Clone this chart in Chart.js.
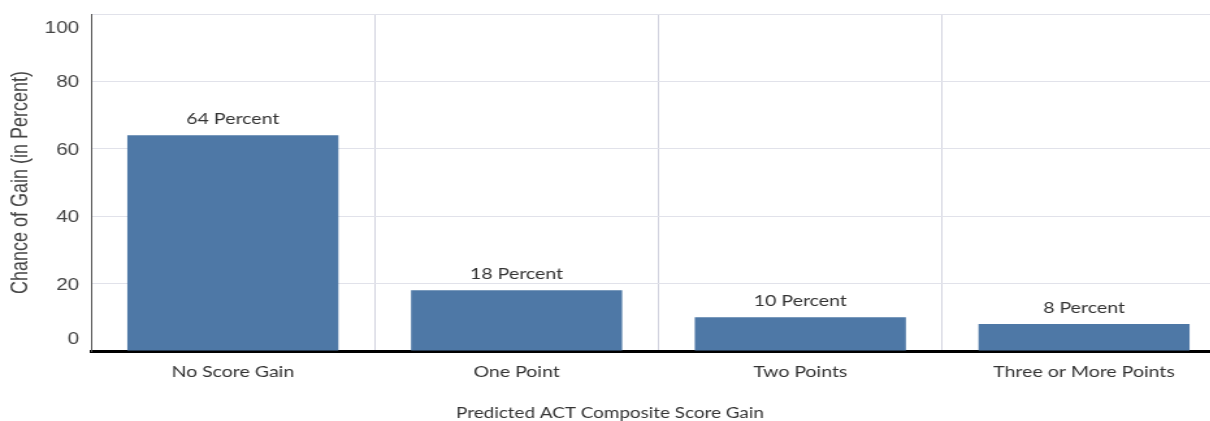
<!DOCTYPE html>
<html lang="en">
<head>
<meta charset="UTF-8" />
<title>Predicted ACT Composite Score Gain</title>
<script src="https://cdn.jsdelivr.net/npm/chart.js"></script>
<style>
	html, body { margin: 0; padding: 0; background: #fff; overflow: hidden; }
	.wrap { width: 1210px; height: 421px; overflow: hidden; }
	/* the reference is stretched sideways, so the canvas is too */
	canvas { transform: scaleX(1.3); transform-origin: 0 0; }
</style>
</head>
<body>
<div class="wrap"><canvas id="grafico" width="943" height="421"></canvas></div>
<script>
	const categorias = ["No Score Gain", "One Point", "Two Points", "Three or More Points"];
	const chances = [64, 18, 10, 8];
	const ticksY = [0, 20, 40, 60, 80, 100];
	const tituloX = "Predicted ACT Composite Score Gain";

	const esticar = 1.3;
	const corBarra = "#4e78a6";
	const fonteTexto = "Lato, 'Open Sans', sans-serif";
	const fonteEixo = "'Liberation Sans', Arial, sans-serif";

	// labels of value on top of each bar
	const rotulos = {
		id: "rotulos",
		afterDatasetsDraw(chart) {
			const ctx = chart.ctx;
			ctx.save();
			ctx.font = "15px " + fonteTexto;
			ctx.fillStyle = "#333";
			ctx.textAlign = "center";
			ctx.textBaseline = "middle";
			chart.getDatasetMeta(0).data.forEach((bar, i) => {
				ctx.fillText(Math.round(chances[i]) + " Percent", bar.x, bar.y - 16);
			});
			ctx.restore();
		},
	};

	// y tick labels (end ones pulled inside) and x title centred on the page
	const textosEixos = {
		id: "textosEixos",
		afterDraw(chart) {
			const ctx = chart.ctx;
			const escala = chart.scales.y;
			ctx.save();
			ctx.font = "16px " + fonteEixo;
			ctx.fillStyle = "#444";
			ctx.textAlign = "right";
			ctx.textBaseline = "middle";
			ticksY.forEach((v) => {
				let y = escala.getPixelForValue(v);
				if (v === 0) y -= 11;
				else if (v === 100) y += 15;
				else y += 1.5;
				ctx.fillText(String(v), escala.right - 9, y);
			});

			ctx.font = "14.5px " + fonteTexto;
			ctx.fillStyle = "#333";
			ctx.textAlign = "center";
			ctx.fillText(tituloX, 610 / esticar, 413);
			ctx.restore();
		},
	};

	new Chart(document.getElementById("grafico"), {
		type: "bar",
		data: {
			labels: categorias,
			datasets: [
				{
					data: chances,
					backgroundColor: corBarra,
					borderWidth: 0,
					barPercentage: 0.744,
					categoryPercentage: 1,
				},
			],
		},
		options: {
			responsive: false,
			animation: false,
			layout: { padding: { top: 14, left: 0, right: 0, bottom: 0 } },
			plugins: {
				legend: { display: false },
				tooltip: { enabled: false },
			},
			scales: {
				x: {
					z: 1,
					offset: true,
					grid: { offset: true, color: "#d2d3df", lineWidth: 1, drawTicks: false },
					border: { color: "#000", width: 3 },
					ticks: {
						color: "#333",
						font: { family: fonteTexto, size: 15 },
						padding: 12,
						maxRotation: 0,
						autoSkip: false,
					},
					afterFit: (s) => { s.height = 70; },
				},
				y: {
					min: 0,
					max: 100,
					ticks: { stepSize: 20, display: false },
					grid: { color: "#e1e2ea", lineWidth: 1, drawTicks: false },
					border: { color: "#555", width: 1 },
					title: {
						display: true,
						text: "Chance of Gain (in Percent)",
						color: "#444",
						font: { family: fonteEixo, size: 18 },
						padding: { top: 5, bottom: 0 },
					},
					afterFit: (s) => { s.width = 70; },
				},
			},
		},
		plugins: [rotulos, textosEixos],
	});
</script>
</body>
</html>
